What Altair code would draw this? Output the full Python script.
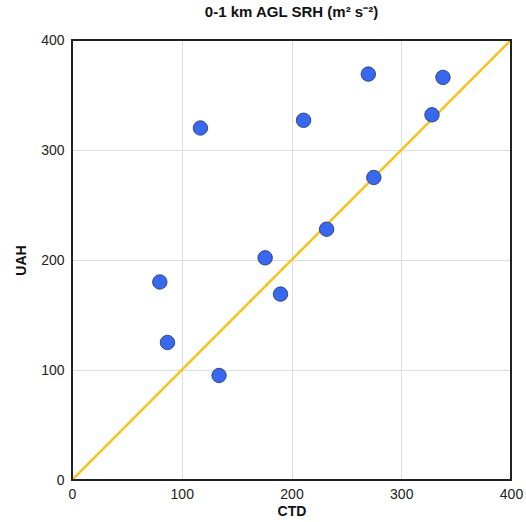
import altair as alt
import pandas as pd

ctd = [80, 87, 117, 134, 176, 190, 211, 232, 270, 275, 328, 338]
uah = [180, 125, 320, 95, 202, 169, 327, 228, 369, 275, 332, 366]
line_x = [0, 400]
line_y = [0, 400]

pts = pd.DataFrame({"CTD": ctd, "UAH": uah})
ln = pd.DataFrame({"CTD": line_x, "UAH": line_y})

xs = alt.Scale(domain=[0, 400], nice=False)
ys = alt.Scale(domain=[0, 400], nice=False)
xax = alt.Axis(values=[0, 100, 200, 300, 400], title="CTD", ticks=False, domain=False,
               labelFontSize=14, labelColor="#222", labelPadding=7, labelFont="Liberation Sans",
               titleFont="Liberation Sans", titleFontSize=14, titleFontWeight="bold", titleColor="#111",
               titlePadding=3, gridColor="#dddddd", labelFlush=False)
yax = alt.Axis(values=[0, 100, 200, 300, 400], title="UAH", ticks=False, domain=False,
               labelFontSize=14, labelColor="#222", labelPadding=8, labelFont="Liberation Sans",
               titleFont="Liberation Sans", titleFontSize=14, titleFontWeight="bold", titleColor="#111",
               titlePadding=12, gridColor="#dddddd", labelFlush=False)

line = alt.Chart(ln).mark_line(color="#f7c21b", strokeWidth=2.5, clip=True).encode(
    x=alt.X("CTD:Q", scale=xs, axis=xax),
    y=alt.Y("UAH:Q", scale=ys, axis=yax),
)
points = alt.Chart(pts).mark_circle(size=210, color="#3768ee", opacity=1, stroke="#223366", strokeWidth=0.8).encode(
    x=alt.X("CTD:Q", scale=xs),
    y=alt.Y("UAH:Q", scale=ys),
)
frame = alt.Chart(pts).mark_rect(fill=None, fillOpacity=0, stroke="#222222", strokeWidth=1.5).encode(
    x=alt.datum(0, scale=xs), x2=alt.datum(400),
    y=alt.datum(0, scale=ys), y2=alt.datum(400),
)

chart = alt.layer(line, points, frame).properties(
    width=439, height=440,
    title=alt.TitleParams("0-1 km AGL SRH (m² s⁻²)", font="Liberation Sans", fontSize=15,
                          fontWeight="bold", color="#111", offset=13),
    autosize=alt.AutoSizeParams(type="none"),
    padding={"left": 72, "top": 40, "right": 15, "bottom": 42},
).configure_view(stroke=None).configure(background="white")

chart.save("out.html", embed_options={"renderer": "svg", "actions": False})
